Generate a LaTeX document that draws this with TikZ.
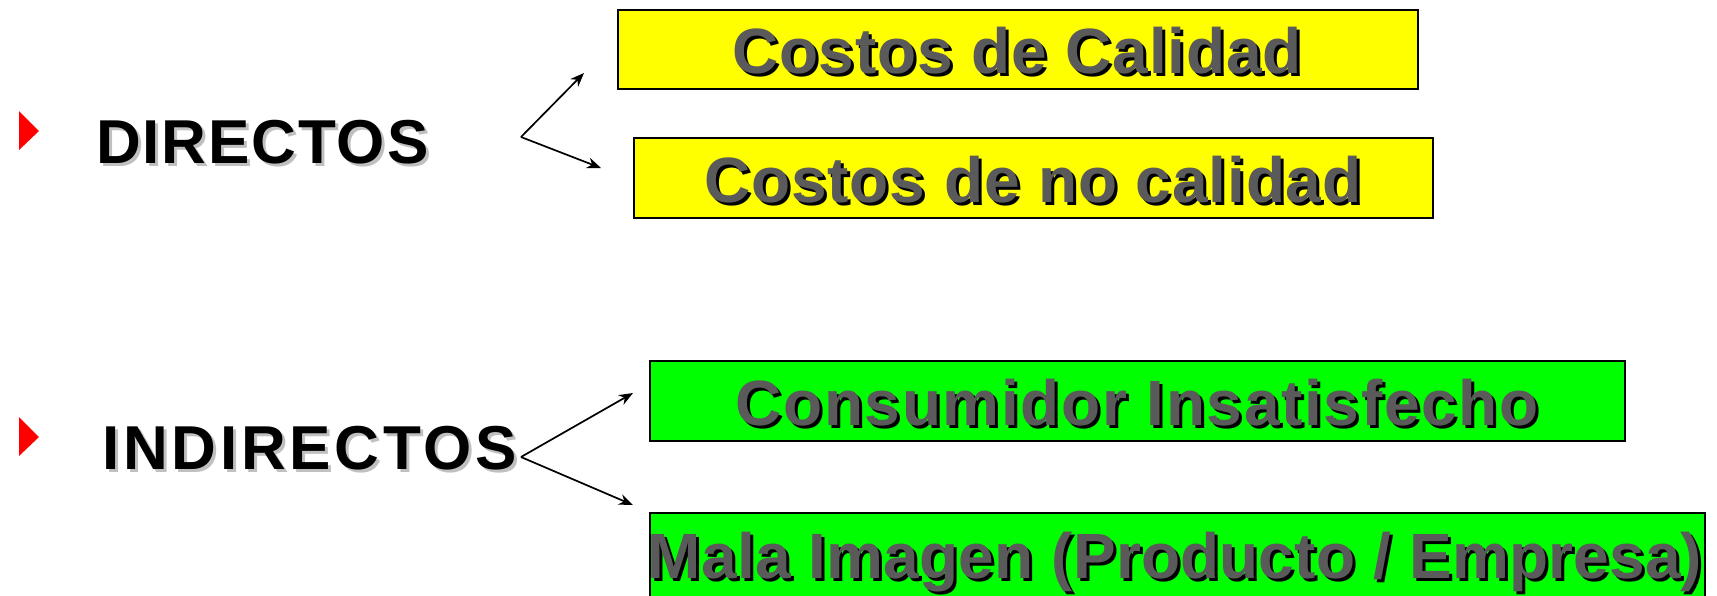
\documentclass[tikz,border=0pt]{standalone}
\usepackage{fontspec}
\setmainfont{Liberation Sans}
\newfontfamily\headfont[LetterSpace=3]{Liberation Sans}
\newfontfamily\headfontwide[LetterSpace=6]{Liberation Sans}
\usetikzlibrary{arrows.meta}
\definecolor{txtgray}{HTML}{5A5A5A}
\definecolor{shgray}{HTML}{C0C0C0}
\definecolor{boxyellow}{HTML}{FFFF00}
\definecolor{boxgreen}{HTML}{00FF00}
\definecolor{bulred}{HTML}{FF0000}
\tikzset{
  box/.style={draw=black, line width=2pt, anchor=north west, inner sep=0pt},
  boxtext/.style={anchor=base, inner sep=0pt, font=\fontsize{64}{64}\selectfont\bfseries\addfontfeatures{LetterSpace=#1}, text=txtgray},
  boxshadow/.style={boxtext=#1, text=black},
  head/.style={anchor=base west, inner sep=0pt, font=\headfont\fontsize{62}{62}\selectfont\bfseries, text=black},
  headshadow/.style={head, text=shgray},
  headw/.style={anchor=base west, inner sep=0pt, font=\headfontwide\fontsize{62}{62}\selectfont\bfseries, text=black},
  headwshadow/.style={headw, text=shgray},
  link/.style={line width=1.7pt, -{Stealth[length=14pt,width=11pt]}},
  bulletmark/.style={fill=bulred, draw=none}
}
\begin{document}
\begin{tikzpicture}[x=1pt,y=-1pt]
\useasboundingbox (0,0) rectangle (1717,595);
\fill[white] (0,0) rectangle (1717,595);
% bullets
\fill[bulletmark] (19,111) -- (39,131) -- (19,150) -- cycle;
\fill[bulletmark] (19,417) -- (39,437) -- (19,456) -- cycle;
% headings
\node[headshadow] (dirs) at (99,166) {DIRECTOS};
\node[head] (dir) at (96,163) {DIRECTOS};
\node[headwshadow] (indirs) at (105,472) {INDIRECTOS};
\node[headw] (indir) at (102,469) {INDIRECTOS};
% boxes
\node[box, fill=boxyellow, minimum width=800pt, minimum height=79pt] (b1) at (617,9) {};
\node[box, fill=boxyellow, minimum width=799pt, minimum height=80pt] (b2) at (633,137) {};
\node[box, fill=boxgreen, minimum width=975pt, minimum height=80pt] (b3) at (649,360) {};
\node[box, fill=boxgreen, minimum width=1055pt, minimum height=100pt] (b4) at (649,512) {};
% box texts
\node[boxshadow=1.3] (t1s) at (1020,76.5) {Costos de Calidad};
\node[boxtext=1.3] (t1) at (1017,73.5) {Costos de Calidad};
\node[boxshadow=1.3] (t2s) at (1036,205) {Costos de no calidad};
\node[boxtext=1.3] (t2) at (1033,202) {Costos de no calidad};
\node[boxshadow=2.6] (t3s) at (1140,428) {Consumidor Insatisfecho};
\node[boxtext=2.6] (t3) at (1137,425) {Consumidor Insatisfecho};
\node[boxshadow=0.3] (t4s) at (1178,581) {Mala Imagen (Producto / Empresa)};
\node[boxtext=0.3] (t4) at (1175,578) {Mala Imagen (Producto / Empresa)};
% connectors
\coordinate (o1) at (521,137);
\coordinate (e1a) at (584,73);
\coordinate (e1b) at (601,168);
\coordinate (o2) at (521,457);
\coordinate (e2a) at (633,393);
\coordinate (e2b) at (633,505);
\draw[link] (o1) -- (e1a);
\draw[link] (o1) -- (e1b);
\draw[link] (o2) -- (e2a);
\draw[link] (o2) -- (e2b);
\end{tikzpicture}
\end{document}
